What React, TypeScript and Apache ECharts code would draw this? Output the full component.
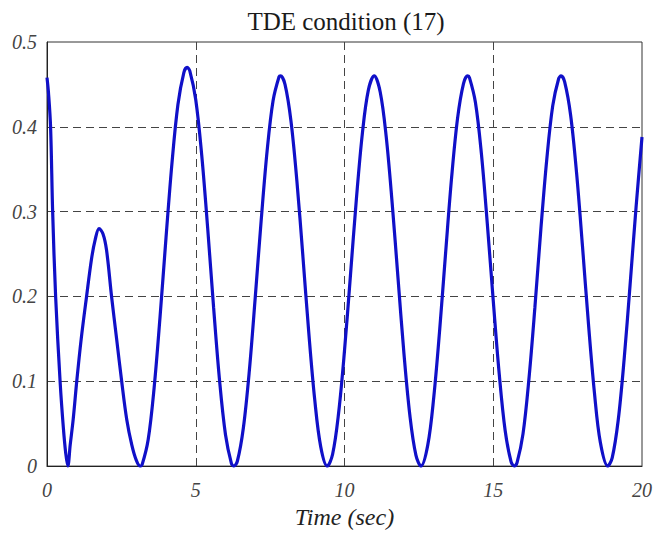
import React, { useEffect, useRef } from "react";
import * as echarts from "echarts";

const titleText = "TDE condition (17)";
const xAxisName = "Time (sec)";
const xTicks = [0, 5, 10, 15, 20];
const yTicks = [0, 0.1, 0.2, 0.3, 0.4, 0.5];

const times = [
  0, 0.05, 0.12, 0.19, 0.29, 0.44, 0.55, 0.63, 0.7,
  0.78, 0.88, 1.0, 1.15, 1.33, 1.5, 1.62, 1.75, 1.88, 2.0, 2.17, 2.34, 2.51, 2.68, 2.85, 3.0, 3.13,
  3.2, 3.4, 3.6, 3.8, 4.0, 4.2, 4.4, 4.6, 4.71, 4.8, 5.0, 5.2, 5.4, 5.6, 5.8, 6.0, 6.2, 6.28,
  6.4, 6.6, 6.8, 7.0, 7.2, 7.4, 7.6, 7.8, 7.85, 8.0, 8.2, 8.4, 8.6, 8.8, 9.0, 9.2, 9.42,
  9.6, 9.8, 10.0, 10.2, 10.4, 10.6, 10.8, 11.0, 11.2, 11.4, 11.6, 11.8, 12.0, 12.2, 12.4, 12.57,
  12.8, 13.0, 13.2, 13.4, 13.6, 13.8, 14.0, 14.14, 14.2, 14.4, 14.6, 14.8, 15.0, 15.2, 15.4, 15.6, 15.71,
  15.8, 16.0, 16.2, 16.4, 16.6, 16.8, 17.0, 17.2, 17.28, 17.4, 17.6, 17.8, 18.0, 18.2, 18.4, 18.6, 18.85,
  19.0, 19.2, 19.4, 19.6, 19.8, 20.0,
];

const tdeValues = [
  0.458, 0.44, 0.4, 0.3, 0.2, 0.1, 0.045, 0.015, 0,
  0.025, 0.055, 0.1, 0.15, 0.2, 0.245, 0.267, 0.28, 0.274, 0.255, 0.2, 0.15, 0.1, 0.055, 0.025, 0.007, 0,
  0.002, 0.031, 0.092, 0.176, 0.269, 0.357, 0.426, 0.464, 0.47, 0.466, 0.432, 0.367, 0.281, 0.187, 0.101, 0.037, 0.003, 0,
  0.006, 0.045, 0.112, 0.199, 0.29, 0.372, 0.431, 0.459, 0.46, 0.45, 0.407, 0.336, 0.248, 0.157, 0.078, 0.023, 0,
  0.014, 0.062, 0.136, 0.225, 0.315, 0.392, 0.443, 0.46, 0.441, 0.389, 0.311, 0.221, 0.132, 0.059, 0.013, 0,
  0.025, 0.081, 0.161, 0.252, 0.34, 0.41, 0.451, 0.46, 0.458, 0.429, 0.369, 0.286, 0.195, 0.109, 0.042, 0.005, 0,
  0.004, 0.038, 0.103, 0.187, 0.279, 0.362, 0.425, 0.457, 0.46, 0.453, 0.414, 0.346, 0.259, 0.168, 0.087, 0.028, 0,
  0.01, 0.054, 0.126, 0.214, 0.305, 0.388,
];

const serif = "'Liberation Serif', 'Times New Roman', serif";

export default function App() {
  const ref = useRef<HTMLDivElement>(null);
  useEffect(() => {
    document.body.style.margin = "0";
    document.body.style.overflow = "hidden";
    if (!ref.current) return;
    const chart = echarts.init(ref.current, undefined, { renderer: "svg" });
    const data = times.map((t, i) => [t, tdeValues[i]]);
    const gridLeft = 47, gridRight = 13, gridTop = 42, gridBottom = 58;
    chart.setOption({
      animation: false,
      backgroundColor: "#fff",
      grid: {
        left: gridLeft, right: gridRight, top: gridTop, bottom: gridBottom,
        show: true, borderColor: "#333", borderWidth: 1, containLabel: false,
      },
      graphic: [
        {
          type: "text",
          x: 346,
          y: 21,
          style: {
            text: titleText,
            font: `25px ${serif}`,
            fill: "#1a1a1a",
            textAlign: "center",
            textVerticalAlign: "middle",
          },
        },
      ],
      xAxis: {
        type: "value",
        min: xTicks[0],
        max: xTicks[xTicks.length - 1],
        interval: xTicks[1] - xTicks[0],
        name: xAxisName,
        nameLocation: "middle",
        nameGap: 38,
        nameTextStyle: { fontFamily: serif, fontStyle: "italic", fontSize: 24, color: "#222" },
        axisLine: { show: true, lineStyle: { color: "#222", width: 1 } },
        axisTick: { show: false },
        axisLabel: { fontFamily: serif, fontStyle: "italic", fontSize: 20, color: "#444", margin: 14 },
        splitLine: {
          show: true, showMinLine: false, showMaxLine: false,
          lineStyle: { color: "#444", width: 1, type: [8, 5] },
        },
      },
      yAxis: {
        type: "value",
        min: yTicks[0],
        max: yTicks[yTicks.length - 1],
        interval: yTicks[1] - yTicks[0],
        axisLine: { show: true, lineStyle: { color: "#222", width: 1 } },
        axisTick: { show: false },
        axisLabel: {
          fontFamily: serif, fontStyle: "italic", fontSize: 20, color: "#444", margin: 10,
          formatter: (v: number) => (v === 0 ? "0" : v.toFixed(1)),
        },
        splitLine: {
          show: true, showMinLine: false, showMaxLine: false,
          lineStyle: { color: "#444", width: 1, type: [8, 5] },
        },
      },
      series: [
        {
          type: "line",
          data,
          smooth: 0.35,
          showSymbol: false,
          clip: true,
          lineStyle: { color: "#1010c8", width: 3.2 },
        },
      ],
    });
    return () => chart.dispose();
  }, []);
  return <div ref={ref} style={{ width: 655, height: 534 }} />;
}
